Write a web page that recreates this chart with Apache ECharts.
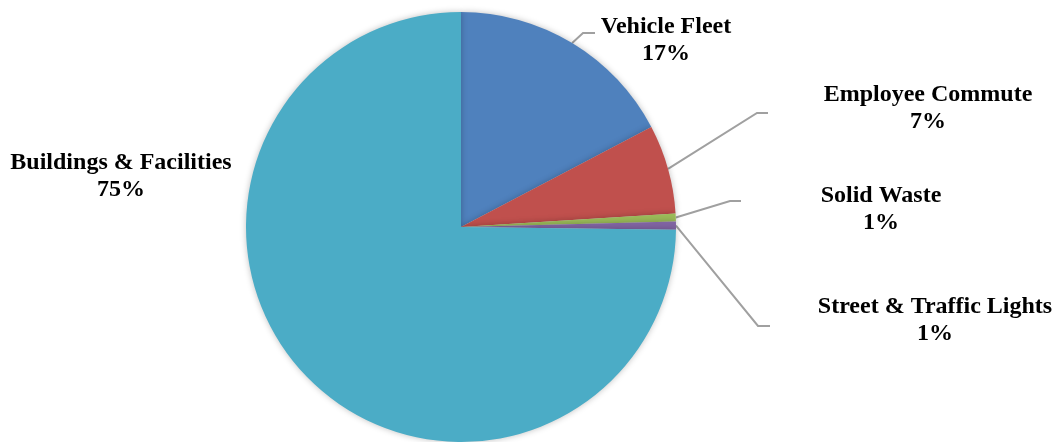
<!DOCTYPE html>
<html>
<head>
<meta charset="utf-8">
<script src="https://cdn.jsdelivr.net/npm/echarts@6/dist/echarts.min.js"></script>
<style>
html,body{margin:0;padding:0;background:#fff;}
#main{width:1058px;height:442px;}
</style>
</head>
<body>
<div id="main"></div>
<script>
const categories = ['Vehicle Fleet', 'Employee Commute', 'Solid Waste', 'Street & Traffic Lights', 'Buildings & Facilities'];
const values = [17.3, 6.7, 0.6, 0.6, 74.8];
const colors = ['#4F81BD', '#C0504D', '#9BBB59', '#8064A2', '#4BACC6'];

// label placement (layout only)
const labelPos = [
  {x: 666, y: 40, elbow: [583, 33], end: [595, 33]},
  {x: 928, y: 108, elbow: [757, 113], end: [768, 113]},
  {x: 881, y: 209, elbow: [730, 201], end: [741, 201]},
  {x: 935, y: 320, elbow: [758, 326], end: [770, 326]},
  {x: 121, y: 176, elbow: null, end: null}
];

const chart = echarts.init(document.getElementById('main'), null, {renderer: 'canvas'});
chart.setOption({
  animation: false,
  series: [{
    type: 'pie',
    center: [461, 227],
    radius: [0, 215],
    startAngle: 90,
    clockwise: true,
    avoidLabelOverlap: false,
    itemStyle: {shadowBlur: 6, shadowColor: 'rgba(0,0,0,0.25)'},
    label: {
      show: true,
      position: 'outside',
      fontFamily: 'Liberation Serif',
      fontWeight: 'bold',
      fontSize: 24,
      color: '#000',
      lineHeight: 27,
      align: 'center',
      formatter: p => p.name + '\n' + Math.round(p.value) + '%'
    },
    labelLine: {show: true, lineStyle: {color: '#A0A0A0', width: 2}, length: 10, length2: 10},
    labelLayout: function (params) {
      const lp = labelPos[params.dataIndex];
      const out = {x: lp.x, y: lp.y, align: 'center', verticalAlign: 'middle'};
      if (lp.elbow && params.labelLinePoints) {
        out.labelLinePoints = [params.labelLinePoints[0], lp.elbow, lp.end];
      }
      return out;
    },
    data: categories.map((c, i) => ({
      name: c,
      value: values[i],
      itemStyle: {color: colors[i]},
      labelLine: {show: i !== 4}
    }))
  }]
});
</script>
</body>
</html>
